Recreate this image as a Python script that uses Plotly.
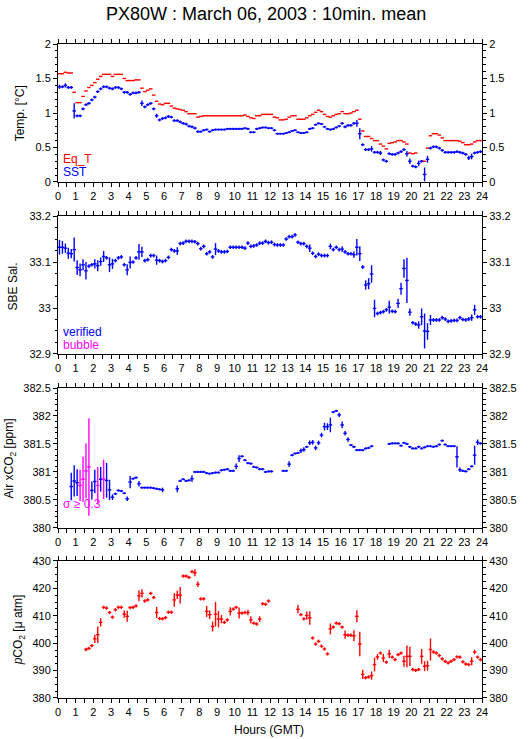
import numpy as np
import plotly.graph_objects as go

# 10-minute means, slot i covers [i*10, (i+1)*10) minutes of the day
hours = np.arange(144) / 6 + 1 / 12

eq_t = [
    1.57, 1.57, 1.59, 1.58, 1.58, 1.30, 1.15, 1.15, 1.24, 1.32, 1.37, 1.40,
    1.44, 1.49, 1.53, 1.56, 1.56, 1.56, 1.53, 1.56, 1.56, 1.56, 1.50, 1.47,
    1.47, 1.47, 1.48, 1.48, 1.36, 1.31, 1.33, 1.35, 1.26, 1.17, 1.13, 1.12,
    1.14, 1.14, 1.10, 1.07, 1.06, 1.05, 1.04, 1.02, 0.99, 0.99, 0.99, 0.94,
    0.95, 0.96, 0.96, 0.96, 0.96, 0.96, 0.96, 0.96, 0.96, 0.96, 0.96, 0.96,
    0.96, 0.96, 0.96, 0.97, 0.95, 0.93, 0.92, 0.96, 0.96, 0.98, 0.98, 0.98,
    0.98, 0.94, 0.93, 0.90, 0.90, 0.91, 0.94, 0.96, 0.96, 0.91, 0.91, 0.91,
    0.93, 0.96, 0.98, 1.01, 1.04, 1.02, 0.98, 0.95, 0.94, 0.96, 0.98, 0.99,
    1.02, 0.99, 0.99, 1.00, 1.02, 1.04, 0.91, 0.74, 0.66, 0.66, 0.63, 0.60,
    0.60, 0.55, 0.52, 0.48, 0.56, 0.57, 0.58, 0.60, 0.60, 0.58, 0.55, 0.42,
    0.41, 0.42, None, 0.30, 0.30, 0.49, 0.67, 0.70, 0.70, 0.68, 0.64, 0.60,
    0.60, 0.60, 0.60, 0.60, 0.59, 0.57, 0.54, 0.54, 0.55, 0.58, 0.60, 0.60,
]

sst = [
    1.38, 1.38, 1.40, 1.37, 1.37, 1.03, 0.96, 0.96, 1.06, 1.12, 1.14, 1.19,
    1.23, 1.31, 1.35, 1.38, 1.38, 1.36, 1.35, 1.37, 1.37, 1.35, 1.30, 1.30,
    1.27, 1.29, 1.29, 1.30, 1.14, 1.09, 1.12, 1.14, 1.06, 0.96, 0.90, 0.92,
    0.93, 0.95, 0.94, 0.89, 0.89, 0.87, 0.85, 0.84, 0.81, 0.80, 0.78, 0.73,
    0.73, 0.75, 0.76, 0.73, 0.75, 0.76, 0.76, 0.76, 0.76, 0.77, 0.77, 0.77,
    0.77, 0.77, 0.77, 0.78, 0.77, 0.72, 0.72, 0.77, 0.78, 0.79, 0.79, 0.78,
    0.78, 0.75, 0.70, 0.70, 0.70, 0.71, 0.72, 0.74, 0.75, 0.72, 0.71, 0.71,
    0.72, 0.77, 0.78, 0.83, 0.85, 0.84, 0.80, 0.77, 0.76, 0.77, 0.79, 0.81,
    0.85, 0.80, 0.82, 0.82, 0.85, 0.85, 0.70, 0.54, 0.47, 0.47, 0.48, 0.43,
    0.43, 0.42, 0.32, 0.30, 0.41, 0.40, 0.40, 0.42, 0.44, 0.47, 0.41, 0.30,
    0.23, 0.22, 0.27, 0.30, 0.11, 0.33, 0.49, 0.51, 0.51, 0.49, 0.46, 0.43,
    0.43, 0.43, 0.43, 0.44, 0.43, 0.42, 0.40, 0.35, 0.37, 0.42, 0.43, 0.44,
]
sst_err = [
    .03, .02, .03, .02, .02, .11, .02, .02, .02, .02, .02, .02,
    .02, .02, .02, .02, .02, .02, .02, .02, .02, .02, .02, .02,
    .02, .02, .02, .02, .04, .02, .02, .02, .02, .03, .02, .02,
    .02, .02, .02, .02, .02, .02, .02, .02, .02, .02, .02, .02,
    .015, .015, .015, .015, .015, .015, .015, .015, .015, .015, .015, .015,
    .015, .015, .015, .015, .015, .015, .015, .015, .015, .015, .015, .015,
    .015, .015, .015, .015, .015, .015, .015, .015, .015, .015, .015, .015,
    .015, .015, .015, .015, .015, .015, .015, .015, .015, .015, .015, .015,
    .02, .02, .02, .02, .02, .05, .08, .02, .02, .02, .04, .02,
    .02, .03, .02, .02, .02, .02, .02, .02, .02, .02, .04, .04,
    .02, .02, .04, .02, .10, .05, .02, .02, .02, .02, .02, .02,
    .02, .02, .02, .02, .02, .02, .02, .03, .04, .02, .02, .02,
]

sal = [
    33.132, 33.132, 33.130, 33.119, 33.118, 33.127, 33.088, 33.083, 33.094, 33.081, 33.091, 33.094,
    33.096, 33.092, 33.101, 33.112, 33.109, 33.094, 33.096, 33.103, 33.109, 33.111, 33.094, 33.083,
    33.099, 33.100, 33.109, 33.122, 33.122, 33.103, 33.105, 33.114, 33.114, 33.104, 33.103, 33.101,
    33.103, 33.110, 33.127, 33.124, 33.124, 33.140, 33.141, 33.145, 33.145, 33.145, 33.144, 33.140,
    33.129, 33.134, 33.118, 33.122, 33.111, 33.128, 33.124, 33.122, 33.122, 33.123, 33.132, 33.132,
    33.132, 33.132, 33.132, 33.130, 33.141, 33.134, 33.135, 33.137, 33.141, 33.141, 33.145, 33.142,
    33.143, 33.138, 33.137, 33.137, 33.137, 33.150, 33.155, 33.155, 33.159, 33.143, 33.140, 33.140,
    33.134, 33.130, 33.119, 33.112, 33.117, 33.114, 33.114, 33.114, 33.134, 33.127, 33.132, 33.127,
    33.128, 33.122, 33.118, 33.118, 33.116, 33.132, 33.118, 33.089, 33.050, 33.053, 33.074, 32.999,
    32.988, 32.990, 32.992, 32.996, 33.002, 32.993, 32.992, 33.010, 33.042, 33.086, 33.060, 32.991,
    32.968, 32.965, 32.963, 32.981, 32.950, 32.949, 32.974, 32.974, 32.974, 32.974, 32.979, 32.976,
    32.971, 32.972, 32.973, 32.973, 32.979, 32.975, 32.974, 32.976, 32.979, 32.996, 32.981, 32.981,
]
sal_err = [
    .016, .014, .010, .012, .010, .026, .016, .014, .012, .019, .004, .004,
    .010, .012, .009, .012, .004, .016, .011, .004, .004, .004, .004, .012,
    .013, .004, .004, .017, .011, .004, .004, .004, .004, .010, .004, .004,
    .004, .004, .004, .004, .008, .004, .004, .004, .004, .004, .004, .004,
    .004, .004, .004, .004, .004, .013, .004, .004, .004, .004, .004, .004,
    .004, .004, .004, .004, .004, .004, .004, .004, .004, .004, .004, .004,
    .004, .004, .004, .004, .004, .004, .004, .004, .004, .004, .004, .004,
    .004, .008, .004, .004, .004, .004, .004, .004, .006, .004, .004, .004,
    .006, .004, .004, .004, .007, .018, .016, .004, .010, .012, .019, .019,
    .004, .004, .004, .004, .014, .004, .004, .010, .013, .020, .049, .008,
    .004, .004, .008, .018, .038, .018, .011, .004, .004, .004, .004, .004,
    .004, .004, .004, .004, .004, .004, .004, .004, .007, .011, .004, .004,
]

xco2 = [
    None, None, None, None, 380.74, 380.84, 380.81, 380.76, 380.87, 381.02, 381.09, 380.67,
    380.83, 380.76, 380.87, 380.87, 380.85, 380.68, 380.55, 380.61, 380.67, 380.66, 380.62, 380.52,
    380.82, 380.88, 380.90, 380.79, 380.72, 380.72, 380.72, 380.72, 380.71, 380.70, 380.69, 380.68,
    None, None, None, None, 380.70, 380.84, 380.87, 380.84, 380.85, 380.88, 381.00, 381.00,
    381.00, 381.00, 380.98, 380.97, 380.98, 380.99, 380.99, 381.03, 381.04, 381.05, 381.02, 381.02,
    381.10, 381.24, 381.28, 381.21, 381.16, 381.15, 381.09, 381.08, 381.05, 381.05, 381.00, 381.01,
    381.01, None, None, None, 381.02, 381.02, 381.14, 381.30, 381.33, 381.34, 381.38, 381.40,
    381.45, 381.52, 381.53, 381.43, 381.52, 381.66, 381.81, 381.81, 381.84, 382.07, 382.09, 382.02,
    381.84, 381.69, 381.58, 381.48, 381.45, 381.39, 381.39, 381.39, 381.42, 381.43, 381.46, None,
    None, None, None, None, 381.50, 381.51, 381.51, 381.51, 381.47, 381.52, 381.50, 381.45,
    381.42, 381.42, 381.45, 381.42, 381.44, 381.46, 381.46, 381.45, 381.46, 381.49, 381.56, 381.49,
    381.46, 381.46, 381.46, 381.27, 381.04, 381.02, 381.01, 381.05, 381.10, 381.30, 381.53, 381.51,
]
xco2_err = [
    0, 0, 0, 0, .245, .28, .24, .28, .40, .49, .87, .16,
    .21, .33, .22, .35, .31, .18, .05, .02, .02, .02, .02, .04,
    .11, .02, .02, .05, .02, .02, .02, .02, .02, .02, .02, .04,
    0, 0, 0, 0, .06, .02, .02, .02, .02, .06, .02, .02,
    .02, .02, .02, .02, .02, .02, .02, .02, .02, .02, .02, .02,
    .05, .06, .02, .02, .02, .02, .02, .02, .02, .02, .02, .02,
    .02, 0, 0, 0, .02, .02, .05, .02, .02, .02, .04, .04,
    .02, .04, .04, .04, .04, .04, .07, .06, .13, .02, .02, .04,
    .06, .04, .04, .02, .02, .02, .02, .02, .02, .02, .02, 0,
    0, 0, 0, 0, .02, .02, .02, .02, .02, .02, .02, .02,
    .02, .02, .02, .02, .02, .02, .02, .02, .02, .02, .02, .02,
    .02, .02, .02, .19, .04, .02, .02, .02, .02, .17, .05, .02,
]
# slots whose xCO2 standard deviation is >= 0.3 ppm
xco2_high_sigma = [7, 8, 9, 10, 13, 15]

pco2 = [
    None, None, None, None, None, None, None, None, None, 397.7, 398.1, 399.1,
    401.6, 403.1, 407.6, 413.1, 412.8, 411.2, 409.5, 412.2, 413.1, 413.1, 410.6, 409.8,
    413.0, 413.1, 413.6, 417.3, 418.2, 415.4, 415.8, 418.2, 416.7, 411.2, 409.0, 408.9,
    409.3, 411.3, 411.3, 415.8, 417.6, 417.5, 424.5, 424.5, 424.0, 426.1, 425.7, 421.5,
    416.2, 416.2, 411.6, 410.4, 406.1, 410.6, 408.8, 408.8, 407.6, 408.5, 411.6, 412.4,
    413.1, 411.0, 411.0, 411.2, 411.2, 408.5, 407.3, 407.0, 408.8, 414.4, 414.2, 415.4,
    None, None, None, None, None, None, None, None, None, 412.4, 410.4, 408.9,
    410.1, 409.2, 401.9, 399.7, 400.7, 398.9, 397.9, 396.1, 405.2, 405.9, 407.3, 407.1,
    405.9, 403.1, 402.9, 402.9, 402.7, 409.8, 399.7, 388.6, 387.4, 387.7, 388.2, 392.2,
    395.0, 396.4, 394.6, 393.1, 396.1, 394.9, 394.0, 395.8, 396.4, 393.4, 395.2, 395.2,
    390.4, 390.1, 390.4, 395.2, 391.6, 391.8, 397.7, 396.8, 396.4, 395.5, 394.3, 393.4,
    392.8, 393.4, 394.0, 395.0, 394.9, 393.2, 392.4, 392.2, 393.4, 396.8, 394.9, 394.0,
]
pco2_err = [
    0, 0, 0, 0, 0, 0, 0, 0, 0, .6, .6, .6,
    1.5, 3.0, 1.5, .6, .6, .6, .6, .6, .6, .6, 1.3, 2.0,
    .6, .6, .6, 2.0, 1.5, .6, .6, .6, .6, 2.0, .6, .6,
    .6, .6, .6, 2.5, 1.5, 3.0, .6, .6, .6, .6, 1.3, 1.0,
    .6, .6, 2.0, 1.6, 1.8, 4.5, 3.0, 1.5, .6, .6, 1.5, .6,
    .6, 2.0, .6, .6, 1.0, 1.3, .6, .6, 1.0, .6, .6, .6,
    0, 0, 0, 0, 0, 0, 0, 0, 0, 1.5, .6, .6,
    1.5, 2.5, .6, .6, .6, .6, .6, .6, 2.0, .6, .6, .6,
    .6, 1.5, .6, .6, 2.0, 2.2, 4.5, 1.7, .6, .6, 1.5, 2.5,
    1.0, .6, 1.5, .6, 1.5, .6, .6, .6, .6, 2.0, 4.0, 3.5,
    .6, .6, .6, 2.7, 1.8, 1.8, 4.0, .6, .6, .6, .6, .6,
    .6, .6, .6, .6, .6, .6, .6, .6, 1.5, .8, .6, .6,
]

RED, BLUE, MAGENTA = "#ff0000", "#0000ff", "#ff00ff"
FONT = "Liberation Sans"


def crosses(y, err, color, k, show_y=True):
    # 10-min mean as a cross: horizontal bar = averaging window, vertical = std
    return go.Scatter(
        x=hours, y=y, mode="markers",
        marker=dict(size=1, color="rgba(0,0,0,0)"),
        error_x=dict(type="constant", value=0.1, width=0, thickness=1.4, color=color),
        error_y=dict(type="data", array=err, width=0, thickness=1.4, color=color, visible=show_y),
        xaxis=f"x{k}", yaxis=f"y{k}", showlegend=False, hoverinfo="skip",
    )


xco2_blue = [v if i not in xco2_high_sigma else None for i, v in enumerate(xco2)]
xco2_mag = [v if i in xco2_high_sigma else None for i, v in enumerate(xco2)]

fig = go.Figure()
fig.add_trace(crosses(eq_t, None, RED, 1, show_y=False))
fig.add_trace(crosses(sst, sst_err, BLUE, 1))
fig.add_trace(crosses(sal, sal_err, BLUE, 2))
fig.add_trace(crosses(xco2_blue, xco2_err, BLUE, 3))
fig.add_trace(crosses(xco2_mag, xco2_err, MAGENTA, 3))
fig.add_trace(crosses(pco2, pco2_err, RED, 4))

# empty traces so the right-hand label axes get drawn
for k in range(1, 5):
    fig.add_trace(go.Scatter(x=[None], y=[None], xaxis=f"x{k}", yaxis=f"y{k + 4}",
                             showlegend=False, hoverinfo="skip"))

domains = [[0.789, 1.0], [0.526, 0.737], [0.260, 0.474], [0.0, 0.2095]]
yranges = [[0, 2], [32.9, 33.2], [380, 382.5], [380, 430]]
ydticks = [0.5, 0.1, 0.5, 10]
yminor = [0.1, 0.025, 0.1, 2.5]

axis_common = dict(
    showline=True, linecolor="black", linewidth=1, showgrid=False, zeroline=False,
    ticks="outside", ticklen=4, tickwidth=1, tickcolor="black",
    tickfont=dict(family=FONT, size=11, color="black"),
)

layout = {}
for k in range(1, 5):
    s = "" if k == 1 else str(k)
    layout[f"xaxis{s}"] = dict(
        axis_common, domain=[0, 1], anchor=f"y{s}", range=[0, 24],
        tickmode="linear", tick0=0, dtick=1, mirror="allticks",
        minor=dict(dtick=0.5, ticks="outside", ticklen=2.5, tickcolor="black", showgrid=False),
    )
    layout[f"yaxis{s}"] = dict(
        axis_common, domain=domains[k - 1], anchor=f"x{s}", range=yranges[k - 1],
        tickmode="linear", tick0=yranges[k - 1][0], dtick=ydticks[k - 1],
        minor=dict(dtick=yminor[k - 1], ticks="outside", ticklen=2.5, tickcolor="black", showgrid=False),
    )
    layout[f"yaxis{k + 4}"] = dict(
        axis_common, overlaying=f"y{s}", side="right", anchor=f"x{s}", range=yranges[k - 1],
        tickmode="linear", tick0=yranges[k - 1][0], dtick=ydticks[k - 1],
        minor=dict(dtick=yminor[k - 1], ticks="outside", ticklen=2.5, tickcolor="black", showgrid=False),
    )

fig.update_layout(
    width=529, height=739,
    margin=dict(l=58, r=43, t=44, b=41),
    paper_bgcolor="white", plot_bgcolor="white",
    font=dict(family=FONT, size=11, color="black"),
    showlegend=False,
    **layout,
)


def px_x(px):
    return (px - 58) / 428


def px_y(py):
    return (698 - py) / 654


ann = [
    dict(text="PX80W : March 06, 2003 : 10min. mean", x=px_x(268), y=px_y(14),
         font=dict(size=18), xanchor="center", yanchor="middle"),
    dict(text="Hours (GMT)", x=px_x(271), y=px_y(730), font=dict(size=12),
         xanchor="center", yanchor="middle"),
    dict(text="Temp. [°C]", x=px_x(20), y=px_y(113), textangle=-90, font=dict(size=12)),
    dict(text="SBE Sal.", x=px_x(13), y=px_y(286), textangle=-90, font=dict(size=12)),
    dict(text="Air xCO<sub>2</sub> [ppm]", x=px_x(10), y=px_y(458), textangle=-90, font=dict(size=12)),
    dict(text="<i>p</i>CO<sub>2</sub> [μ atm]", x=px_x(19), y=px_y(630), textangle=-90, font=dict(size=12)),
    dict(text="Eq_T", x=px_x(61), y=px_y(159), xanchor="left", font=dict(size=12, color=RED)),
    dict(text="SST", x=px_x(61), y=px_y(172), xanchor="left", font=dict(size=12, color=BLUE)),
    dict(text="verified", x=px_x(61), y=px_y(332), xanchor="left", font=dict(size=12, color=BLUE)),
    dict(text="bubble", x=px_x(61), y=px_y(345), xanchor="left", font=dict(size=12, color=MAGENTA)),
    dict(text="σ ≥ 0.3", x=px_x(61), y=px_y(504), xanchor="left", font=dict(size=12, color=MAGENTA)),
]
for a in ann:
    a.setdefault("xanchor", "center")
    a.setdefault("yanchor", "middle")
    a.update(xref="paper", yref="paper", showarrow=False)
    a["font"] = dict(dict(family=FONT, color="black"), **a["font"])
fig.update_layout(annotations=ann)

# drop the browser's default 8px body margin so the figure sits at (0, 0)
fig.write_html("out.html", config={"displayModeBar": False},
               post_script="document.body.style.margin='0px';")
